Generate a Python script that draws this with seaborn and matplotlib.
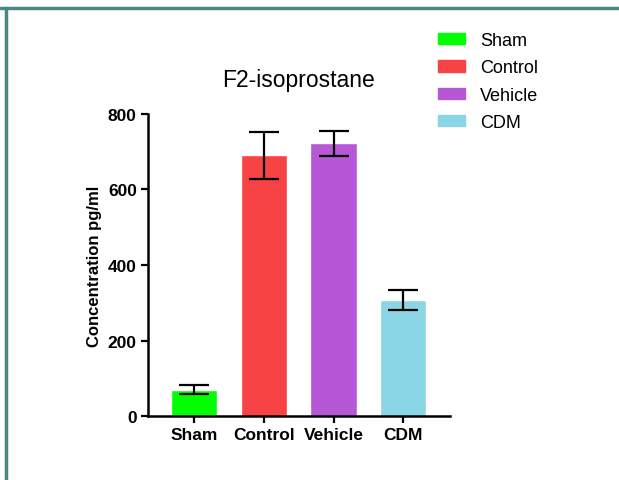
import matplotlib
matplotlib.use("Agg")
import matplotlib.pyplot as plt
import seaborn as sns
import pandas as pd
from matplotlib.patches import Patch
from matplotlib.lines import Line2D

categories = ["Sham", "Control", "Vehicle", "CDM"]
means = [70, 690, 722, 307]
errors = [11, 62, 34, 27]
colors = ["#00ff00", "#f74343", "#b657d8", "#8bd6e6"]
yticks = [0, 200, 400, 600, 800]

sns.set_style("ticks")
plt.rcParams['font.family'] = ['Liberation Sans', 'DejaVu Sans']
plt.rcParams.update({"text.color": "black", "axes.labelcolor": "black",
                     "xtick.color": "black", "ytick.color": "black",
                     "axes.edgecolor": "black"})

df = pd.DataFrame({"group": categories, "value": means})

fig = plt.figure(figsize=(6.19, 4.81), dpi=100)
ax = fig.add_axes([0.239, 0.133, 0.488, 0.628])

sns.barplot(data=df, x="group", y="value", hue="group", palette=colors,
            order=categories, hue_order=categories, width=0.66,
            errorbar=None, legend=False, ax=ax, saturation=1)
ax.errorbar(range(len(categories)), means, yerr=errors, fmt="none",
            ecolor="black", elinewidth=1.6, capsize=11, capthick=1.6, zorder=5)

ax.set_xlim(-0.66, 3.67)
ax.set_ylim(0, 800)
ax.set_yticks(yticks)
ax.set_yticklabels([str(t) for t in yticks], fontweight="bold", fontsize=12.5)
for lab in ax.get_xticklabels():
    lab.set_fontweight("bold")
    lab.set_fontsize(12.5)
ax.set_xlabel("")
ax.set_ylabel("Concentration pg/ml", fontweight="bold", fontsize=12, labelpad=4)
ax.set_title("F2-isoprostane", fontsize=16.5, pad=20)
sns.despine(ax=ax)
for s in ["left", "bottom"]:
    ax.spines[s].set_linewidth(1.8)
ax.tick_params(axis="both", width=1.6, length=5, pad=3)

handles = [Patch(facecolor=c, edgecolor=c) for c in colors]
fig.legend(handles, categories, loc="upper left", bbox_to_anchor=(0.682, 0.965),
           frameon=False, fontsize=13, handlelength=1.5, handleheight=0.6,
           labelspacing=0.57, handletextpad=0.8)

# outer frame lines (top and left)
fig.add_artist(Line2D([0.0, 1.0], [1 - 9/481, 1 - 9/481], transform=fig.transFigure,
                      color="#4b8686", linewidth=2.5))
fig.add_artist(Line2D([6/619, 6/619], [0, 1 - 9/481], transform=fig.transFigure,
                      color="#4b8686", linewidth=2.5))

fig.savefig("out.png", dpi=100)
